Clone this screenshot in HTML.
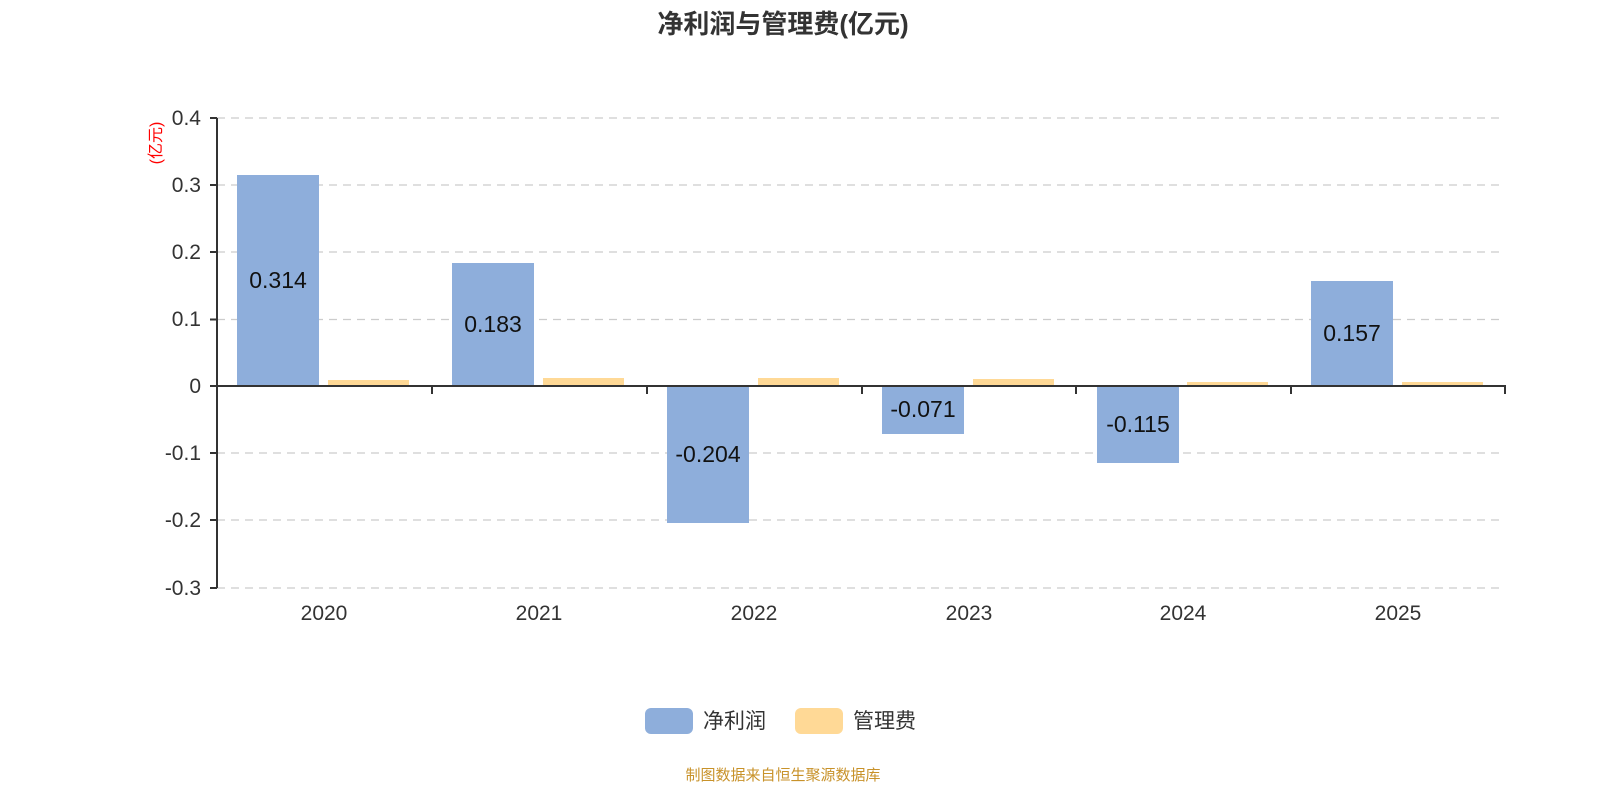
<!DOCTYPE html>
<html><head><meta charset="utf-8"><style>html,body{margin:0;background:#fff;overflow:hidden}svg{display:block}</style></head><body>
<svg width="1600" height="800" xmlns="http://www.w3.org/2000/svg" font-family="'Liberation Sans','Noto Sans CJK SC',sans-serif">
<text x="783" y="33" text-anchor="middle" font-size="26" font-weight="bold" fill="#333">净利润与管理费(亿元)</text>
<g stroke="#ccc" stroke-dasharray="8,6" stroke-width="1.3">
<line x1="217" x2="1505" y1="118" y2="118"/><line x1="217" x2="1505" y1="185" y2="185"/><line x1="217" x2="1505" y1="252" y2="252"/><line x1="217" x2="1505" y1="319.5" y2="319.5"/><line x1="217" x2="1505" y1="453" y2="453"/><line x1="217" x2="1505" y1="520" y2="520"/><line x1="217" x2="1505" y1="588" y2="588"/>
</g>
<g fill="#8eaedb">
<rect x="237" y="175" width="82" height="211"/><rect x="452" y="263" width="82" height="123"/><rect x="667" y="386" width="82" height="137"/><rect x="882" y="386" width="82" height="48"/><rect x="1097" y="386" width="82" height="77"/><rect x="1311" y="281" width="82" height="105"/>
</g>
<g fill="#ffd996">
<rect x="328" y="380" width="81" height="6"/><rect x="543" y="378" width="81" height="8"/><rect x="758" y="378" width="81" height="8"/><rect x="973" y="379" width="81" height="7"/><rect x="1187" y="382" width="81" height="4"/><rect x="1402" y="382" width="81" height="4"/>
</g>
<g stroke="#333" stroke-width="2">
<line x1="217" y1="118" x2="217" y2="588"/><line x1="217" y1="386" x2="1506" y2="386"/>
<line x1="210" x2="217" y1="118" y2="118"/><line x1="210" x2="217" y1="185" y2="185"/><line x1="210" x2="217" y1="252" y2="252"/><line x1="210" x2="217" y1="319.5" y2="319.5"/><line x1="210" x2="217" y1="386" y2="386"/><line x1="210" x2="217" y1="453" y2="453"/><line x1="210" x2="217" y1="520" y2="520"/><line x1="210" x2="217" y1="588" y2="588"/>
<line x1="217" x2="217" y1="386" y2="394"/><line x1="432" x2="432" y1="386" y2="394"/><line x1="647" x2="647" y1="386" y2="394"/><line x1="862" x2="862" y1="386" y2="394"/><line x1="1076" x2="1076" y1="386" y2="394"/><line x1="1291" x2="1291" y1="386" y2="394"/><line x1="1505" x2="1505" y1="386" y2="394"/>
</g>
<g font-size="21" fill="#333" text-anchor="end">
<text x="201" y="125">0.4</text><text x="201" y="192">0.3</text><text x="201" y="259">0.2</text><text x="201" y="326">0.1</text><text x="201" y="393">0</text><text x="201" y="460">-0.1</text><text x="201" y="527">-0.2</text><text x="201" y="595">-0.3</text>
</g>
<text transform="translate(161,143) rotate(-90)" text-anchor="middle" font-size="16" fill="#f00">(亿元)</text>
<g font-size="21" fill="#333" text-anchor="middle">
<text x="324" y="620">2020</text><text x="539" y="620">2021</text><text x="754" y="620">2022</text><text x="969" y="620">2023</text><text x="1183" y="620">2024</text><text x="1398" y="620">2025</text>
</g>
<g font-size="23" fill="#111" text-anchor="middle">
<text x="278" y="288">0.314</text><text x="493" y="332">0.183</text><text x="708" y="462">-0.204</text><text x="923" y="417">-0.071</text><text x="1138" y="432">-0.115</text><text x="1352" y="341">0.157</text>
</g>
<rect x="645" y="708" width="48" height="26" rx="6" fill="#8eaedb"/>
<text x="703" y="728" font-size="21" fill="#333">净利润</text>
<rect x="795" y="708" width="48" height="26" rx="6" fill="#ffd996"/>
<text x="853" y="728" font-size="21" fill="#333">管理费</text>
<text x="783" y="780" text-anchor="middle" font-size="15" fill="#c8922a">制图数据来自恒生聚源数据库</text>
</svg>
</body></html>
